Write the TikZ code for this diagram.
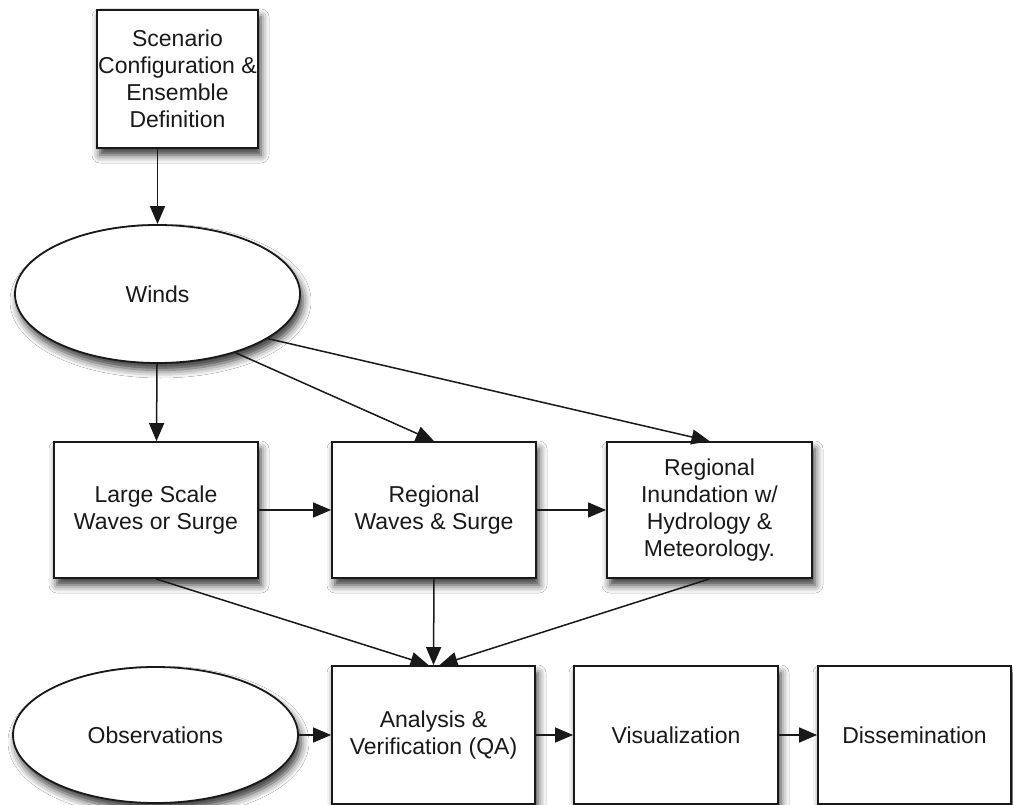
\documentclass[tikz,border=0pt]{standalone}
\usepackage{fontspec}
\setmainfont{Liberation Sans}
\usetikzlibrary{shapes.geometric,arrows.meta,shadows.blur}

\begin{document}
\begin{tikzpicture}[x=1pt,y=-1pt,
  label/.style={font=\fontsize{23}{27}\selectfont, text=black!90, align=center},
  soft/.style={blur shadow={shadow xshift=3pt, shadow yshift=-7pt,
      shadow blur radius=8pt, shadow opacity=80}},
  box/.style={label, soft, rectangle, draw=black!90, line width=1.8pt,
      fill=white, inner sep=0pt},
  oval/.style={label, soft, ellipse, draw=black!90, line width=1.8pt,
      fill=white, inner sep=0pt, minimum width=285pt},
  arr/.style={draw=black!90, line width=1.5pt,
      -{Triangle[length=18pt,width=15pt]}}]

  % canvas
  \path[use as bounding box, fill=white] (0,0) rectangle (1013,805);

  % top: scenario set-up and forcing
  \node[box, minimum width=161pt, minimum height=138pt] (sc) at (177.5,79)
    {Scenario\\Configuration \&\\Ensemble\\Definition};
  \node[oval, minimum height=138pt] (winds) at (157.5,294) {Winds};

  % middle row: model stages
  \node[box, minimum width=204pt, minimum height=136pt] (ls) at (156,510)
    {Large Scale\\Waves or Surge};
  \node[box, minimum width=204pt, minimum height=136pt] (rws) at (434,510)
    {Regional\\Waves \& Surge};
  \node[box, minimum width=205pt, minimum height=136pt] (ri) at (709.5,510)
    {Regional\\Inundation w/\\Hydrology \&\\Meteorology.};

  % bottom row: analysis and products
  \node[oval, minimum height=136pt] (obs) at (155.5,735) {Observations};
  \node[box, minimum width=203pt, minimum height=138pt] (an) at (433.5,735)
    {Analysis \&\\Verification (QA)};
  \node[box, minimum width=204pt, minimum height=138pt] (vis) at (676,735)
    {Visualization};
  \node[box, minimum width=193pt, minimum height=138pt] (dis) at (914.5,735)
    {Dissemination};

  % connectors
  \draw[arr] (sc.south -| winds.north) -- (winds.north);
  \draw[arr] (winds) -- (ls);
  \draw[arr] (winds.-37) -- (rws.north);
  \draw[arr] (winds.-22) -- (ri.north);
  \draw[arr] (ls) -- (rws);
  \draw[arr] (rws) -- (ri);
  \draw[arr] (ls.south) -- ([xshift=-5pt]an.north);
  \draw[arr] (rws.south) -- (an.north);
  \draw[arr] (ri.south) -- ([xshift=6pt]an.north);
  \draw[arr] (obs) -- (an);
  \draw[arr] (an) -- (vis);
  \draw[arr] (vis) -- (dis);
\end{tikzpicture}
\end{document}
